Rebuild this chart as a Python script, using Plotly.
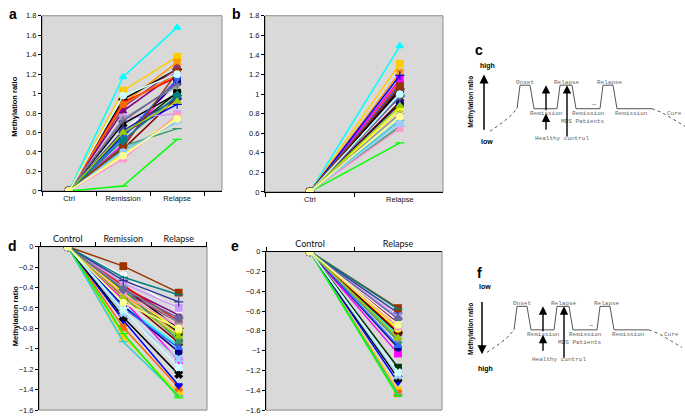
import plotly.graph_objects as go

W, H = 685, 420

# ---------------- data ----------------
cats_a = ["Ctrl", "Remission", "Relapse"]
cats_b = ["Ctrl", "Relapse"]
cats_d = ["Control", "Remission", "Relapse"]
cats_e = ["Control", "Relapse"]
ctrl_value = 0.0

a_remission = [1.17, 1.03, 0.90, 0.94, 0.86, 0.82, 0.91, 0.89, 0.48, 0.62, 0.57, 0.43, 0.60, 0.75, 0.38,
               0.42, 0.46, 0.05, 0.56, 0.69, 0.55, 0.33, 0.74, 0.62, 0.45, 0.40, 0.52, 0.72, 0.98, 0.60, 0.36]
a_relapse = [1.68, 1.38, 1.32, 1.25, 1.26, 1.22, 1.17, 1.20, 1.14, 1.05, 1.01, 0.96, 0.89, 0.79, 0.76,
             0.71, 0.64, 0.53, 1.12, 1.00, 1.15, 0.78, 1.08, 0.95, 1.22, 0.72, 0.98, 1.10, 1.20, 0.92, 0.74]
b_relapse = [1.49, 1.31, 1.22, 1.05, 1.09, 1.07, 1.12, 1.13, 1.15, 0.95, 1.03, 0.92, 1.19, 1.01, 0.84,
             0.73, 0.67, 0.50, 0.90, 1.04, 1.10, 0.65, 0.80, 0.98, 1.08, 0.70, 0.99, 0.97, 1.00, 0.88, 0.77]
d_remission = [-0.58, -0.88, -0.47, -0.40, -0.44, -0.40, -0.38, -0.79, -0.52, -0.28, -0.44, -0.49, -0.72, -0.36, -0.45,
               -0.93, -0.42, -0.85, -0.58, -0.69, -0.60, -0.47, -0.40, -0.33, -0.19, -0.65, -0.30, -0.42, -0.62, -0.50, -0.55]
d_relapse = [-0.97, -1.44, -0.85, -0.80, -0.74, -0.67, -0.73, -1.38, -1.12, -0.62, -0.84, -0.94, -1.36, -0.60, -0.82,
             -1.46, -0.92, -1.48, -1.03, -1.25, -0.99, -0.78, -0.74, -0.54, -0.45, -1.10, -0.47, -0.70, -1.18, -0.88, -0.80]
e_relapse = [-0.85, -1.40, -0.80, -0.82, -0.76, -0.72, -0.75, -1.43, -1.03, -0.70, -1.17, -0.82, -1.32, -0.66, -0.78,
             -1.44, -0.90, -1.46, -0.97, -1.28, -0.95, -0.76, -0.88, -0.62, -0.57, -1.25, -0.58, -0.68, -1.22, -0.87, -0.74]

# schematic (panels c / f), local drawing units
sch_dot_left_x = [30, 40, 50, 57]
sch_dot_left_y = [100, 93, 85, 77]
sch_solid_x = [57, 60, 70, 74, 97, 100, 112, 116, 140, 143, 153, 157, 192]
sch_solid_y = [77, 53, 53, 77, 77, 53, 53, 77, 77, 53, 53, 77, 77]
sch_dot_right_x = [192, 202, 212, 220, 225]
sch_dot_right_y = [77, 81, 87, 92, 95]
sch_labels = ["Onset", "Relapse", "Relapse", "Remission", "Remission", "Remission", "Cure",
              "MDS Patients", "Healthy control"]

# ---------------- styles ----------------
colors = ['#00FFFF', '#FFCC00', '#FF9900', '#000000', '#993366', '#800080', '#FF0000', '#FF6600',
          '#FF00FF', '#FFFFFF', '#003300', '#800000', '#0000FF', '#CC99FF', '#FFFF00', '#33CCCC',
          '#339966', '#00FF00', '#000080', '#000000', '#3366FF', '#FF99CC', '#969696', '#333399',
          '#993300', '#99CCFF', '#008080', '#666699', '#CCFFFF', '#99CC00', '#FFFF99']
sym_ab = ['triangle-up', 'square', 'x', 'diamond', 'circle', 'triangle-up', 'asterisk-open', 'circle',
          'square', 'circle', 'square', 'x', 'cross-thin-open', 'square', 'circle', 'line-ew-open',
          'line-ew-open', 'line-ew-open', 'square', 'x', 'triangle-down', 'x', 'asterisk-open', 'diamond',
          'square', 'circle', 'diamond', 'cross-thin-open', 'circle', 'triangle-up', 'circle']
sym_de = ['line-ew-open', 'square', 'circle', 'diamond', 'circle', 'triangle-up', 'asterisk-open', 'x',
          'square', 'circle', 'square', 'x', 'triangle-down', 'square', 'circle', 'line-ew-open',
          'x', 'line-ew-open', 'circle', 'x', 'triangle-up', 'circle', 'asterisk-open', 'cross-thin-open',
          'square', 'x', 'line-ew-open', 'diamond', 'x', 'triangle-up', 'circle']

fig = go.Figure()


def add_panel(cats, values_by_series, xa, ya, symbols):
    for i, vals in enumerate(values_by_series):
        c = colors[i]
        fig.add_trace(go.Scatter(
            x=cats, y=vals, xaxis=xa, yaxis=ya, mode='lines+markers',
            line=dict(color=c, width=1.5),
            marker=dict(symbol=symbols[i], size=6.5, color=c, line=dict(color=c, width=1.2)),
            showlegend=False, hoverinfo='skip'))


add_panel(cats_a, [[ctrl_value, r, l] for r, l in zip(a_remission, a_relapse)], 'x', 'y', sym_ab)
add_panel(cats_b, [[ctrl_value, l] for l in b_relapse], 'x2', 'y2', sym_ab)
add_panel(cats_d, [[ctrl_value, r, l] for r, l in zip(d_remission, d_relapse)], 'x3', 'y3', sym_de)
add_panel(cats_e, [[ctrl_value, l] for l in e_relapse], 'x4', 'y4', sym_de)

# overlay (pixel) axis needs a trace
fig.add_trace(go.Scatter(x=[0], y=[0], xaxis='x5', yaxis='y5', mode='markers',
                         marker=dict(size=1, color='rgba(0,0,0,0)'), showlegend=False, hoverinfo='skip'))

for xa, ya in [('x6', 'y6'), ('x7', 'y7')]:
    fig.add_trace(go.Scatter(x=sch_dot_left_x, y=sch_dot_left_y, xaxis=xa, yaxis=ya, mode='lines',
                             line=dict(color='#555', width=1, dash='dot'), showlegend=False, hoverinfo='skip'))
    fig.add_trace(go.Scatter(x=sch_solid_x, y=sch_solid_y, xaxis=xa, yaxis=ya, mode='lines',
                             line=dict(color='#555', width=1), showlegend=False, hoverinfo='skip'))
    fig.add_trace(go.Scatter(x=sch_dot_right_x, y=sch_dot_right_y, xaxis=xa, yaxis=ya, mode='lines',
                             line=dict(color='#555', width=1, dash='dot'), showlegend=False, hoverinfo='skip'))


def px_dom_x(a, b):
    return [a / W, b / W]


def px_dom_y(top, bottom):
    return [1 - bottom / H, 1 - top / H]


tickfont = dict(family='Liberation Sans, Arial', size=7.5, color='#111')


def cat_axis(dom, cats, rng, anchor, side='bottom', font=None):
    return dict(domain=dom, anchor=anchor, type='category', categoryorder='array', categoryarray=cats,
                range=rng, tickson='boundaries', ticks='outside', ticklen=4, tickcolor='#000',
                showline=True, linecolor='#000', linewidth=1, showgrid=False, zeroline=False,
                side=side, tickfont=font or tickfont, fixedrange=True)


def val_axis(dom, rng, anchor):
    return dict(domain=dom, anchor=anchor, range=rng, dtick=0.2, tick0=0, ticks='outside', ticklen=3,
                tickcolor='#000', showline=True, linecolor='#000', linewidth=1, showgrid=False,
                zeroline=False, tickfont=tickfont, fixedrange=True)


catfont_de = dict(family='Lato, Open Sans', size=9, color='#111')

fig.update_layout(
    width=W, height=H, autosize=False, margin=dict(l=0, r=0, t=0, b=0),
    paper_bgcolor='white', plot_bgcolor='rgba(0,0,0,0)', showlegend=False,
    xaxis=cat_axis(px_dom_x(42, 222), cats_a, [-0.5, 2.83], 'y'),
    yaxis=val_axis(px_dom_y(12, 191), [0, 1.8], 'x'),
    xaxis2=cat_axis(px_dom_x(265, 443), cats_b, [-0.5, 1.48], 'y2'),
    yaxis2=val_axis(px_dom_y(12, 192), [0, 1.8], 'x2'),
    xaxis3=cat_axis(px_dom_x(39, 207), cats_d, [-0.52, 2.51], 'y3', side='top', font=catfont_de),
    yaxis3=val_axis(px_dom_y(248, 415), [-1.6, 0], 'x3'),
    xaxis4=cat_axis(px_dom_x(266, 442), cats_e, [-0.5, 1.5], 'y4', side='top', font=catfont_de),
    yaxis4=val_axis(px_dom_y(253, 415), [-1.6, 0], 'x4'),
    xaxis5=dict(domain=[0, 1], range=[0, W], visible=False, anchor='y5', fixedrange=True),
    yaxis5=dict(domain=[0, 1], range=[H, 0], visible=False, anchor='x5', fixedrange=True),
    xaxis6=dict(domain=px_dom_x(460, 685), range=[0, 225], visible=False, anchor='y6', fixedrange=True),
    yaxis6=dict(domain=px_dom_y(30, 160), range=[130, 0], visible=False, anchor='x6', fixedrange=True),
    xaxis7=dict(domain=px_dom_x(457, 682), range=[0, 225], visible=False, anchor='y7', fixedrange=True),
    yaxis7=dict(domain=px_dom_y(256, 386), range=[130, 0], visible=False, anchor='x7', fixedrange=True),
)

shapes = []
for xr, yr in [('x', 'y'), ('x2', 'y2'), ('x3', 'y3'), ('x4', 'y4')]:
    shapes.append(dict(type='rect', xref=f'{xr} domain', yref=f'{yr} domain', x0=0, x1=1, y0=0, y1=1,
                       fillcolor='#d9d9d9', line=dict(color='#8c8c8c', width=1), layer='below'))
fig.update_layout(shapes=shapes)

ann = []


def txt(x, y, text, size, ref=('x5', 'y5'), color='#000', family='Liberation Sans, Arial', angle=0,
        xanchor='center', yanchor='middle', weight=None):
    t = f'<b>{text}</b>' if weight else text
    ann.append(dict(x=x, y=y, xref=ref[0], yref=ref[1], text=t, showarrow=False, textangle=angle,
                    font=dict(family=family, size=size, color=color), xanchor=xanchor, yanchor=yanchor))


def arrow(x0, y0, x1, y1, ref=('x5', 'y5'), width=1.5):
    ann.append(dict(x=x1, y=y1, ax=x0, ay=y0, xref=ref[0], yref=ref[1], axref=ref[0], ayref=ref[1],
                    text='', showarrow=True, arrowhead=2, arrowsize=1.2, arrowwidth=width,
                    arrowcolor='#000', standoff=0, startstandoff=0))


# panel letters
for x, y, s in [(13, 10, 'a'), (236, 10, 'b'), (479, 47, 'c'), (12, 247, 'd'), (235, 247, 'e'), (479, 275, 'f')]:
    txt(x, y, s, 14, weight=True)

# y titles
txt(15, 105, 'Methylation ratio', 7.5, angle=-90, weight=True)
txt(15, 319, 'Methylation ratio', 7.5, angle=-90, weight=True)

# schematic c
txt(487, 63, 'high', 7, weight=True)
txt(487, 140, 'low', 7, weight=True)
txt(471, 100, 'Methylation ratio', 6.5, angle=-90, weight=True)
arrow(484, 130, 484, 72)
# schematic f
txt(485, 289, 'low', 7, weight=True)
txt(485, 373, 'high', 7, weight=True)
txt(471, 332, 'Methylation ratio', 6.5, angle=-90, weight=True)
arrow(482, 303, 482, 358)

lab_pos = [(65, 50), (107, 50), (150, 50), (86, 82), (128, 82), (171, 82), (214, 82), (123, 90), (102, 107)]
for ref in [('x6', 'y6'), ('x7', 'y7')]:
    for (lx, ly), s in zip(lab_pos, sch_labels):
        txt(lx, ly, s, 6, ref=ref, color='#666', family='Liberation Mono, DejaVu Sans Mono')
    txt(134, 73, '~', 7, ref=ref, color='#666', family='Liberation Mono')
    arrow(86, 80, 86, 53, ref=ref, width=1.4)
    arrow(86, 100, 86, 82, ref=ref, width=1.4)
    arrow(107, 107, 107, 53, ref=ref, width=1.4)

fig.update_layout(annotations=ann)

# remove the browser's default 8px page margin so the figure sits at the window origin
fig.write_html("out.html", config={'displayModeBar': False},
               post_script="document.body.style.margin='0px';")
